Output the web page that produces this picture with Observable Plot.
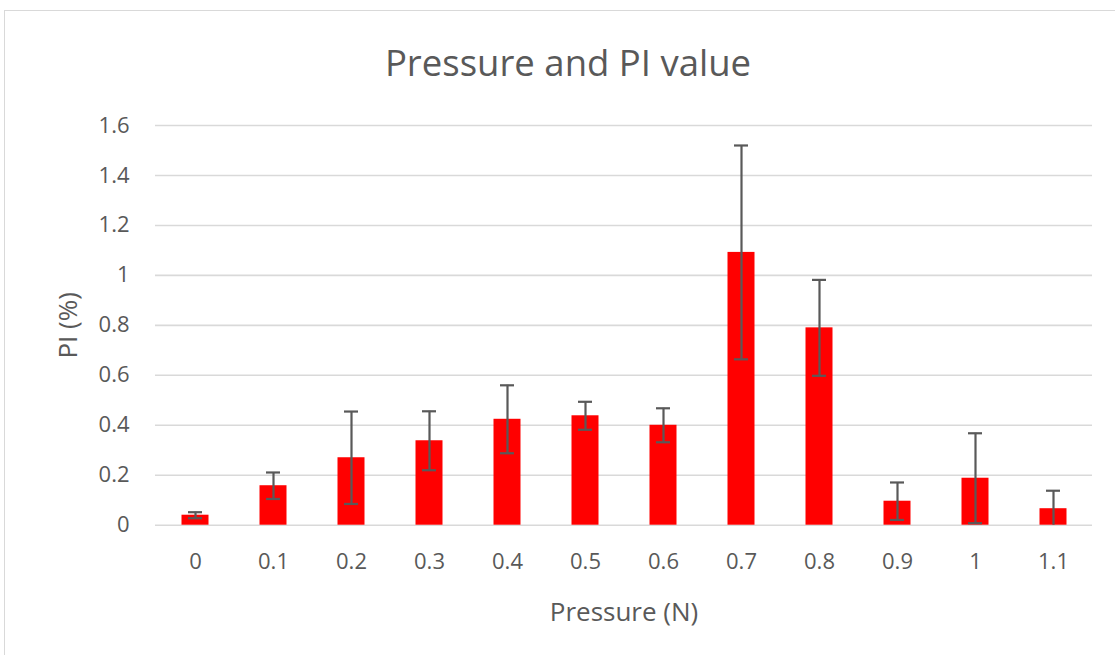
<!DOCTYPE html>
<html><head><meta charset="utf-8">
<script src="https://cdn.jsdelivr.net/npm/d3@7"></script>
<script src="https://cdn.jsdelivr.net/npm/@observablehq/plot@0.6"></script>
<style>
html,body{margin:0;padding:0;width:1115px;height:655px;overflow:hidden;background:#fff;font-family:"Open Sans",sans-serif;}
#frame{position:absolute;left:4px;top:10px;width:1200px;height:700px;border:1px solid #d9d9d9;box-sizing:border-box;}
#title{position:absolute;left:0;top:0;width:1136px;height:100px;line-height:124px;text-align:center;font-size:36.5px;color:#595959;}
#chart{position:absolute;left:0;top:100px;}
</style>
</head><body>
<div id="frame"></div>
<div id="title">Pressure and PI value</div>
<div id="chart"></div>
<script>
const pressure = ["0","0.1","0.2","0.3","0.4","0.5","0.6","0.7","0.8","0.9","1","1.1"];
const piValue  = [0.04,0.158,0.27,0.338,0.424,0.438,0.40,1.092,0.79,0.096,0.188,0.066];
const piError  = [0.012,0.053,0.185,0.118,0.136,0.056,0.068,0.428,0.192,0.075,0.18,0.072];
const yTicks   = [0,0.2,0.4,0.6,0.8,1,1.2,1.4,1.6];

const data = pressure.map((p,i)=>({p, v:piValue[i], hi:piValue[i]+piError[i], lo:Math.max(0,piValue[i]-piError[i]), rawLo:piValue[i]-piError[i]}));
const ink = "#595959";
const chart = Plot.plot({
  width:1115, height:555,
  marginLeft:155, marginRight:23, marginTop:25, marginBottom:130.3,
  style:{fontFamily:'"Open Sans",sans-serif', fontSize:"22px", color:ink, background:"transparent"},
  x:{domain:pressure, padding:0},
  y:{domain:[0,1.6]},
  marks:[
    Plot.gridY(yTicks,{stroke:"#d9d9d9", strokeOpacity:1, strokeWidth:1.6}),
    Plot.barY(data,{x:"p", y:"v", fill:"#ff0000", insetLeft:25.5, insetRight:25.5}),
    Plot.ruleX(data,{x:"p", y1:"lo", y2:"hi", stroke:ink, strokeWidth:2.2}),
    Plot.tickY(data,{x:"p", y:"hi", stroke:ink, strokeWidth:2.2, insetLeft:32, insetRight:32}),
    Plot.tickY(data.filter(d=>d.rawLo>=0),{x:"p", y:"lo", stroke:ink, strokeWidth:2.2, insetLeft:32, insetRight:32}),
    Plot.axisX({tickSize:0, tickPadding:28, fontSize:22, label:null}),
    Plot.axisX([], {tickSize:0, fontSize:26, label:"Pressure (N)", labelAnchor:"center", labelOffset:96, labelArrow:"none"}),
    Plot.axisY(yTicks,{tickSize:0, tickPadding:26, fontSize:22, tickFormat:d=>String(+d.toFixed(1)), label:null}),
    Plot.axisY([], {tickSize:0, fontSize:26, label:"PI (%)", labelAnchor:"center", labelOffset:97, labelArrow:"none"})
  ]
});
document.getElementById("chart").appendChild(chart);
</script>
</body></html>
